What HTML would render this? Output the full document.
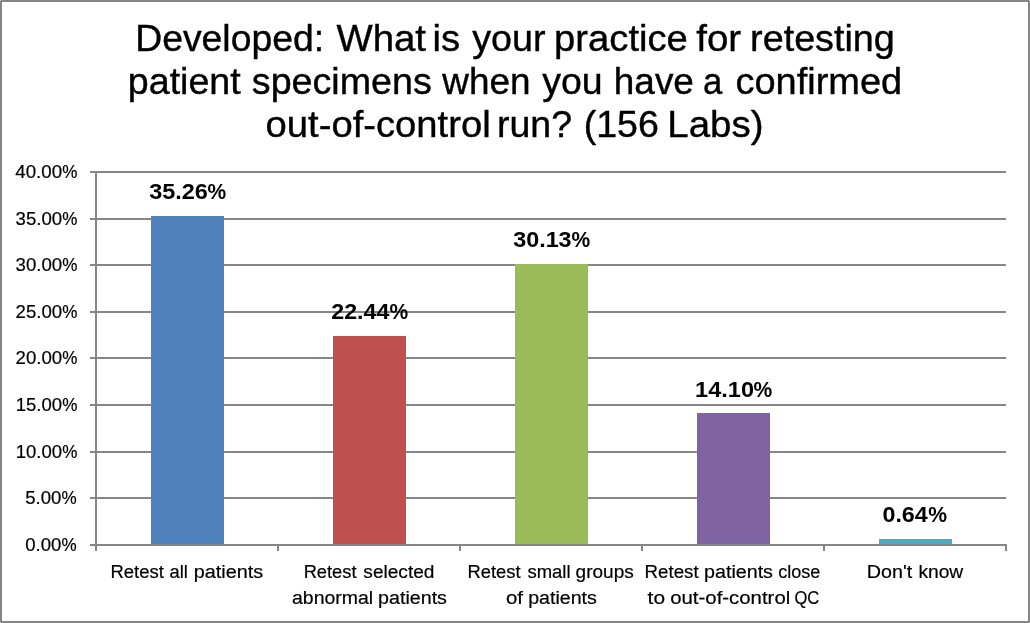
<!DOCTYPE html>
<html lang="en"><head><meta charset="utf-8"><title>Developed: retesting patient specimens</title>
<style>
html,body{margin:0;padding:0;background:#fff;}
body{width:1030px;height:623px;overflow:hidden;}
svg{display:block;}
text{font-family:"Liberation Sans",sans-serif;fill:#000;}
.t{font-size:37.4px;stroke:#000;stroke-width:0.4px;}
.y{font-size:18.8px;stroke:#000;stroke-width:0.2px;}
.c{font-size:18.8px;stroke:#000;stroke-width:0.2px;}
.d{font-size:22.4px;font-weight:bold;}
</style></head><body>
<svg width="1030" height="623" viewBox="0 0 1030 623">
<rect x="0" y="0" width="1030" height="623" fill="#fff"/>
<rect x="1" y="1" width="1028" height="621" fill="none" stroke="#868686" stroke-width="2" shape-rendering="crispEdges"/>
<g fill="#c4c4c4" shape-rendering="crispEdges"><rect x="0" y="0" width="1" height="1"/><rect x="1029" y="0" width="1" height="1"/><rect x="0" y="622" width="1" height="1"/><rect x="1029" y="622" width="1" height="1"/></g>
<g fill="#868686" shape-rendering="crispEdges">
<rect x="90" y="171" width="916" height="2"/>
<rect x="90" y="218" width="916" height="2"/>
<rect x="90" y="264" width="916" height="2"/>
<rect x="90" y="311" width="916" height="2"/>
<rect x="90" y="357" width="916" height="2"/>
<rect x="90" y="404" width="916" height="2"/>
<rect x="90" y="451" width="916" height="2"/>
<rect x="90" y="497" width="916" height="2"/>
<rect x="90" y="544" width="916" height="2"/>
<rect x="95" y="171" width="2" height="380"/>
<rect x="277" y="544" width="2" height="7"/>
<rect x="459" y="544" width="2" height="7"/>
<rect x="641" y="544" width="2" height="7"/>
<rect x="823" y="544" width="2" height="7"/>
<rect x="1005" y="544" width="2" height="7"/>
</g>
<g shape-rendering="crispEdges">
<rect x="151" y="216" width="73" height="328" fill="#4F81BD"/>
<rect x="333" y="336" width="73" height="208" fill="#C0504D"/>
<rect x="515" y="264" width="73" height="280" fill="#9BBB59"/>
<rect x="697" y="413" width="73" height="131" fill="#8064A2"/>
<rect x="879" y="539" width="73" height="5" fill="#4BACC6"/>
</g>
<text class="t" y="51"><tspan x="135.26" textLength="188.81" lengthAdjust="spacingAndGlyphs">Developed:</tspan> <tspan x="336.4" textLength="89.63" lengthAdjust="spacingAndGlyphs">What</tspan> <tspan x="432.5" textLength="27.59" lengthAdjust="spacingAndGlyphs">is</tspan> <tspan x="472.2" textLength="73.3" lengthAdjust="spacingAndGlyphs">your</tspan> <tspan x="554.1" textLength="133.77" lengthAdjust="spacingAndGlyphs">practice</tspan> <tspan x="696.24" textLength="44.86" lengthAdjust="spacingAndGlyphs">for</tspan> <tspan x="750.13" textLength="144.66" lengthAdjust="spacingAndGlyphs">retesting</tspan></text>
<text class="t" y="94"><tspan x="127.84" textLength="112.88" lengthAdjust="spacingAndGlyphs">patient</tspan> <tspan x="251.84" textLength="180.0" lengthAdjust="spacingAndGlyphs">specimens</tspan> <tspan x="442.35" textLength="88.16" lengthAdjust="spacingAndGlyphs">when</tspan> <tspan x="542.3" textLength="60.4" lengthAdjust="spacingAndGlyphs">you</tspan> <tspan x="613.83" textLength="80.1" lengthAdjust="spacingAndGlyphs">have</tspan> <tspan x="703.11" textLength="19.3" lengthAdjust="spacingAndGlyphs">a</tspan> <tspan x="735.48" textLength="166.73" lengthAdjust="spacingAndGlyphs">confirmed</tspan></text>
<text class="t" y="137"><tspan x="265.57" textLength="225.08" lengthAdjust="spacingAndGlyphs">out-of-control</tspan> <tspan x="496.94" textLength="75.05" lengthAdjust="spacingAndGlyphs">run?</tspan> <tspan x="583.69" textLength="75.16" lengthAdjust="spacingAndGlyphs">(156</tspan> <tspan x="667.27" textLength="96.23" lengthAdjust="spacingAndGlyphs">Labs)</tspan></text>
<text class="y" y="177.8"><tspan x="15.35" textLength="46.75" lengthAdjust="spacingAndGlyphs">40.00</tspan><tspan x="62.35" textLength="15.17" lengthAdjust="spacingAndGlyphs">%</tspan></text>
<text class="y" y="224.8"><tspan x="15.56" textLength="46.54" lengthAdjust="spacingAndGlyphs">35.00</tspan><tspan x="62.35" textLength="15.17" lengthAdjust="spacingAndGlyphs">%</tspan></text>
<text class="y" y="270.8"><tspan x="15.56" textLength="46.54" lengthAdjust="spacingAndGlyphs">30.00</tspan><tspan x="62.35" textLength="15.17" lengthAdjust="spacingAndGlyphs">%</tspan></text>
<text class="y" y="317.8"><tspan x="15.56" textLength="46.54" lengthAdjust="spacingAndGlyphs">25.00</tspan><tspan x="62.35" textLength="15.17" lengthAdjust="spacingAndGlyphs">%</tspan></text>
<text class="y" y="363.8"><tspan x="15.56" textLength="46.54" lengthAdjust="spacingAndGlyphs">20.00</tspan><tspan x="62.35" textLength="15.17" lengthAdjust="spacingAndGlyphs">%</tspan></text>
<text class="y" y="410.8"><tspan x="15.77" textLength="46.32" lengthAdjust="spacingAndGlyphs">15.00</tspan><tspan x="62.35" textLength="15.17" lengthAdjust="spacingAndGlyphs">%</tspan></text>
<text class="y" y="457.8"><tspan x="15.77" textLength="46.32" lengthAdjust="spacingAndGlyphs">10.00</tspan><tspan x="62.35" textLength="15.17" lengthAdjust="spacingAndGlyphs">%</tspan></text>
<text class="y" y="503.8"><tspan x="25.26" textLength="36.1" lengthAdjust="spacingAndGlyphs">5.00</tspan><tspan x="61.55" textLength="15.17" lengthAdjust="spacingAndGlyphs">%</tspan></text>
<text class="y" y="550.8"><tspan x="25.26" textLength="36.1" lengthAdjust="spacingAndGlyphs">0.00</tspan><tspan x="61.55" textLength="15.17" lengthAdjust="spacingAndGlyphs">%</tspan></text>
<text class="d" y="199.4"><tspan x="149.18" textLength="58.66" lengthAdjust="spacingAndGlyphs">35.26</tspan><tspan x="207.53" textLength="18.7" lengthAdjust="spacingAndGlyphs">%</tspan></text>
<text class="d" y="319.4"><tspan x="331.22" textLength="58.13" lengthAdjust="spacingAndGlyphs">22.44</tspan><tspan x="389.53" textLength="18.7" lengthAdjust="spacingAndGlyphs">%</tspan></text>
<text class="d" y="247.4"><tspan x="513.18" textLength="58.45" lengthAdjust="spacingAndGlyphs">30.13</tspan><tspan x="571.53" textLength="18.7" lengthAdjust="spacingAndGlyphs">%</tspan></text>
<text class="d" y="397.4"><tspan x="695.12" textLength="58.98" lengthAdjust="spacingAndGlyphs">14.10</tspan><tspan x="753.53" textLength="18.7" lengthAdjust="spacingAndGlyphs">%</tspan></text>
<text class="d" y="522.4"><tspan x="882.46" textLength="45.34" lengthAdjust="spacingAndGlyphs">0.64</tspan><tspan x="928.23" textLength="18.81" lengthAdjust="spacingAndGlyphs">%</tspan></text>
<text class="c" y="578"><tspan x="110.42" textLength="53.41" lengthAdjust="spacingAndGlyphs">Retest</tspan> <tspan x="169.57" textLength="18.35" lengthAdjust="spacingAndGlyphs">all</tspan> <tspan x="193.85" textLength="69.31" lengthAdjust="spacingAndGlyphs">patients</tspan></text>
<text class="c" y="578"><tspan x="303.64" textLength="52.89" lengthAdjust="spacingAndGlyphs">Retest</tspan> <tspan x="363.39" textLength="71.03" lengthAdjust="spacingAndGlyphs">selected</tspan></text>
<text class="c" y="603.6"><tspan x="292.02" textLength="81.18" lengthAdjust="spacingAndGlyphs">abnormal</tspan> <tspan x="378.05" textLength="68.9" lengthAdjust="spacingAndGlyphs">patients</tspan></text>
<text class="c" y="578"><tspan x="467.53" textLength="53.1" lengthAdjust="spacingAndGlyphs">Retest</tspan> <tspan x="527.41" textLength="43.15" lengthAdjust="spacingAndGlyphs">small</tspan> <tspan x="575.64" textLength="58.16" lengthAdjust="spacingAndGlyphs">groups</tspan></text>
<text class="c" y="603.6"><tspan x="505.98" textLength="17.03" lengthAdjust="spacingAndGlyphs">of</tspan> <tspan x="528.16" textLength="68.6" lengthAdjust="spacingAndGlyphs">patients</tspan></text>
<text class="c" y="578"><tspan x="644.61" textLength="54.02" lengthAdjust="spacingAndGlyphs">Retest</tspan> <tspan x="704.05" textLength="68.9" lengthAdjust="spacingAndGlyphs">patients</tspan> <tspan x="778.28" textLength="42.15" lengthAdjust="spacingAndGlyphs">close</tspan></text>
<text class="c" y="603.6"><tspan x="647.62" textLength="17.42" lengthAdjust="spacingAndGlyphs">to</tspan> <tspan x="670.19" textLength="120.07" lengthAdjust="spacingAndGlyphs">out-of-control</tspan> <tspan x="794.44" textLength="24.85" lengthAdjust="spacingAndGlyphs">QC</tspan></text>
<text class="c" y="578"><tspan x="866.83" textLength="45.29" lengthAdjust="spacingAndGlyphs">Don't</tspan> <tspan x="918.42" textLength="44.83" lengthAdjust="spacingAndGlyphs">know</tspan></text>
</svg>
</body></html>
